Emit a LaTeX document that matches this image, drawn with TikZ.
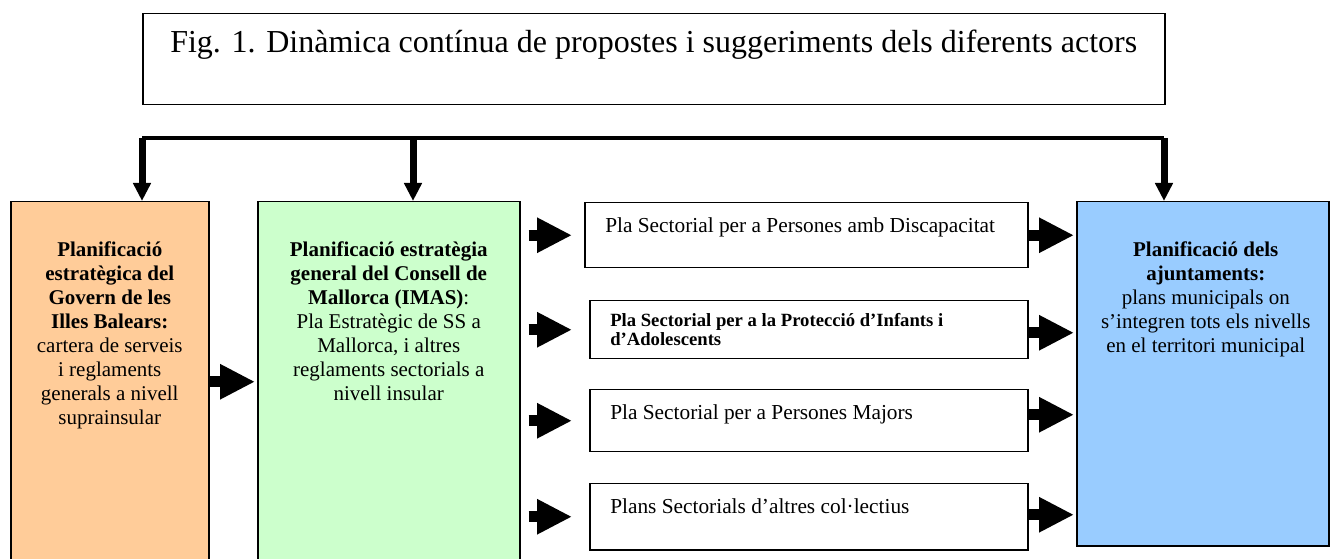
\documentclass[tikz,border=0pt]{standalone}
\usepackage{fontspec}
\setmainfont{Liberation Serif}
\usetikzlibrary{arrows.meta,positioning}
\newdimen\px
\px=0.75pt
\definecolor{govfill}{RGB}{255,204,153}
\definecolor{imasfill}{RGB}{204,255,204}
\definecolor{ajfill}{RGB}{153,204,255}
\newcommand\PlanBox[6]{% name, fill, left, top, width, height
    \node[planbox, fill=#2, minimum width=#5\px, minimum height=#6\px] (#1) at (#3,#4) {};
}
\tikzset{
    planbox/.style={draw, line width=1.5\px, inner sep=0pt, anchor=north west},
    bodytext/.style={align=center, inner sep=0pt, anchor=north,
        font=\fontsize{15.75}{18}\selectfont},
    plantext/.style={align=left, inner sep=0pt, anchor=base west,
        font=\fontsize{16}{18}\selectfont},
    fatarrow/.style={line width=11\px, -{Triangle[length=26.25pt,width=24.75pt]}},
    droparrow/.style={line width=7\px, -{Triangle[length=13.5pt,width=12.75pt]}},
}
\begin{document}
\begin{tikzpicture}[x=\px, y=-\px]
    \useasboundingbox (0,0) rectangle (1332,559);
    % title
    \PlanBox{title}{white}{142}{13}{1022}{91}
    \node[anchor=base, inner sep=0pt, font=\fontsize{24}{28}\selectfont] (caption)
        at ([yshift=-40\px]title.north) {Fig. 1. Dinàmica contínua de propostes i suggeriments dels diferents actors};
    % the three levels
    \PlanBox{gov}{govfill}{10}{201}{198}{370}
    \PlanBox{imas}{imasfill}{257}{201}{262}{370}
    \PlanBox{aj}{ajfill}{1076}{201}{252}{344}
    \node[bodytext] (govtext) at ([yshift=-40\px]gov.north) {%
        \textbf{Planificació}\\\textbf{estratègica del}\\\textbf{Govern de les}\\\textbf{Illes Balears:}\\
        cartera de serveis\\i reglaments\\generals a nivell\\suprainsular};
    \node[bodytext] (imastext) at ([yshift=-40\px]imas.north) {%
        \textbf{Planificació estratègia}\\\textbf{general del Consell de}\\\textbf{Mallorca (IMAS)}:\\
        Pla Estratègic de SS a\\Mallorca, i altres\\reglaments sectorials a\\nivell insular};
    \node[bodytext] (ajtext) at ([xshift=3\px,yshift=-40\px]aj.north) {%
        \textbf{Planificació dels}\\\textbf{ajuntaments:}\\
        plans municipals on\\s’integren tots els nivells\\en el territori municipal};
    % sectorial plans
    \PlanBox{ds}{white}{584}{202}{443}{65}
    \PlanBox{inf}{white}{589}{300}{438}{58}
    \PlanBox{maj}{white}{589}{389}{438}{62}
    \PlanBox{alt}{white}{589}{483}{438}{66}
    \node[plantext] (dstext) at ([xshift=21\px,yshift=-31\px]ds.north west)
        {Pla Sectorial per a Persones amb Discapacitat};
    \node[plantext, font=\fontsize{14}{14.25}\selectfont\bfseries] (inftext)
        at ([xshift=21\px,yshift=-46\px]inf.north west)
        {Pla Sectorial per a la Protecció d’Infants i\\d’Adolescents};
    \node[plantext] (majtext) at ([xshift=21\px,yshift=-31\px]maj.north west)
        {Pla Sectorial per a Persones Majors};
    \node[plantext] (alttext) at ([xshift=21\px,yshift=-30\px]alt.north west)
        {Plans Sectorials d’altres col·lectius};
    % feedback bus
    \coordinate (tapgov) at (142,138);
    \coordinate (tapimas) at (413,138);
    \coordinate (tapaj) at (1164,138);
    \draw[line width=4\px] (tapgov) -- (tapaj);
    \draw[droparrow] (tapgov) -- (tapgov |- gov.north);
    \draw[droparrow] (tapimas) -- (tapimas |- imas.north);
    \draw[droparrow] (tapaj) -- (tapaj |- aj.north);
    % block arrows
    \draw[fatarrow, shorten >=2\px] ([yshift=5\px]gov.east) -- ([yshift=5\px]gov.east -| imas.west);
    \draw[fatarrow, shorten <=8\px, shorten >=12\px] (imas.east |- ds.center) -- (ds.west);
    \foreach \plan in {inf,maj,alt}
        \draw[fatarrow, shorten <=8\px, shorten >=17\px] (imas.east |- \plan.center) -- (\plan.west);
    \draw[fatarrow, shorten >=2\px] (ds.east) -- (ds.east -| aj.west);
    \draw[fatarrow, shorten >=2\px] ([yshift=-3\px]inf.east) -- ([yshift=-3\px]inf.east -| aj.west);
    \draw[fatarrow, shorten >=2\px] ([yshift=6\px]maj.east) -- ([yshift=6\px]maj.east -| aj.west);
    \draw[fatarrow, shorten >=2\px] ([yshift=2\px]alt.east) -- ([yshift=2\px]alt.east -| aj.west);
\end{tikzpicture}
\end{document}
